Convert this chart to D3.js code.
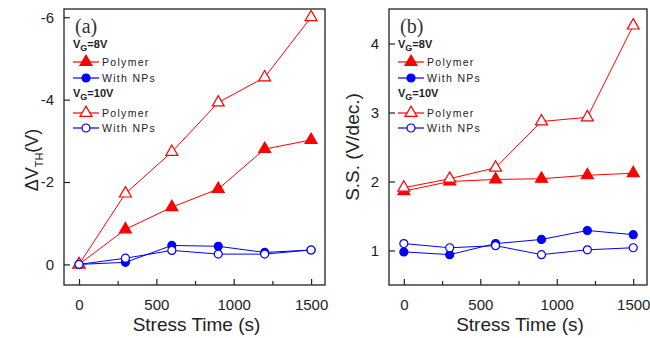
<!DOCTYPE html>
<html>
<head>
<meta charset="utf-8">
<script src="https://cdn.jsdelivr.net/npm/d3@7"></script>
<style>
  body { margin: 0; background: #fff; }
  svg { display: block; }
</style>
</head>
<body>
<svg width="650" height="338"></svg>
<script>
// stress times (s)
var times = [0, 300, 600, 900, 1200, 1500];

// panel (a): threshold voltage shift (V)
var dvthPoly8 = [0, -0.85, -1.39, -1.83, -2.8, -3.02];
var dvthNps8 = [0, -0.05, -0.46, -0.44, -0.29, -0.35];
var dvthPoly10 = [0, -1.72, -2.73, -3.93, -4.54, -6.0];
var dvthNps10 = [0, -0.15, -0.34, -0.25, -0.25, -0.35];

// panel (b): subthreshold swing (V/dec.)
var ssPoly8 = [1.86, 2.0, 2.03, 2.04, 2.09, 2.12];
var ssNps8 = [0.98, 0.94, 1.1, 1.16, 1.29, 1.23];
var ssPoly10 = [1.91, 2.04, 2.2, 2.87, 2.93, 4.26];
var ssNps10 = [1.1, 1.04, 1.07, 0.94, 1.01, 1.04];

var xTicks = [0, 500, 1000, 1500];
var xMinor = [250, 750, 1250];
var dvthTicks = [0, -2, -4, -6];
var ssTicks = [1, 2, 3, 4];

var RED = "#ff0000", BLUE = "#0000ff";
var SANS = "Arial, 'Liberation Sans', sans-serif";

var svg = d3.select("svg");

// one entry per line drawn on each panel
function seriesFor(p8, n8, p10, n10) {
  return [
    {name: "Polymer", vals: p8, color: RED, shape: "tri", fill: true},
    {name: "With NPs", vals: n8, color: BLUE, shape: "circ", fill: true},
    {name: "Polymer", vals: p10, color: RED, shape: "tri", fill: false},
    {name: "With NPs", vals: n10, color: BLUE, shape: "circ", fill: false}
  ];
}

function marker(g, shape, color, fill) {
  if (shape == "tri") {
    g.append("path")
      .attr("d", d3.symbol().type(d3.symbolTriangle).size(62))
      .attr("fill", fill ? color : "#fff")
      .attr("stroke", color)
      .attr("stroke-width", 1.2);
  } else {
    g.append("circle")
      .attr("r", 4)
      .attr("fill", fill ? color : "#fff")
      .attr("stroke", color)
      .attr("stroke-width", 1.2);
  }
}

function drawPanel(opt) {
  var g = svg.append("g");
  var x = d3.scaleLinear().domain([-97, 1590]).range([opt.left, opt.right]);
  var y = d3.scaleLinear().domain(opt.ydom).range([285, 9]);

  // frame
  g.append("rect")
    .attr("x", opt.left).attr("y", 9)
    .attr("width", opt.right - opt.left).attr("height", 276)
    .attr("fill", "none").attr("stroke", "#222").attr("stroke-width", 1.3);

  // axes with inward ticks
  g.append("g").attr("transform", "translate(0,285)")
    .call(d3.axisBottom(x).tickValues(xTicks).tickSize(-6).tickPadding(14)
      .tickFormat(d3.format("d")));
  g.append("g").attr("transform", "translate(0,285)")
    .call(d3.axisBottom(x).tickValues(xMinor).tickSize(-4).tickFormat(""));
  g.append("g").attr("transform", "translate(" + opt.left + ",0)")
    .call(d3.axisLeft(y).tickValues(opt.yticks).tickSize(-6).tickPadding(10)
      .tickFormat(function(d) { return String(d); }));
  g.selectAll(".domain").remove();
  g.selectAll(".tick line").attr("stroke", "#222").attr("stroke-width", 1.2);
  g.selectAll(".tick text")
    .attr("font-family", SANS)
    .attr("font-size", 15).attr("fill", "#222");

  var line = d3.line()
    .x(function(d, i) { return x(times[i]); })
    .y(function(d) { return y(d); });

  opt.series.forEach(function(s) {
    g.append("path").datum(s.vals)
      .attr("d", line).attr("fill", "none")
      .attr("stroke", s.color).attr("stroke-width", 1);
  });
  opt.series.forEach(function(s) {
    s.vals.forEach(function(v, i) {
      var m = g.append("g").attr("transform", "translate(" + x(times[i]) + "," + y(v) + ")");
      marker(m, s.shape, s.color, s.fill);
    });
  });

  // panel letter
  g.append("text")
    .attr("x", opt.left + 11).attr("y", 33)
    .attr("font-family", "'Liberation Serif', 'Times New Roman', serif")
    .attr("font-size", 20).attr("fill", "#333")
    .text(opt.letter);

  // legend
  var lx = opt.left + 9;
  var rows = [
    {head: "8V", y: 48},
    {s: opt.series[0], y: 66},
    {s: opt.series[1], y: 82},
    {head: "10V", y: 97},
    {s: opt.series[2], y: 117},
    {s: opt.series[3], y: 132}
  ];
  rows.forEach(function(r) {
    if (r.head) {
      var t = g.append("text").attr("x", lx).attr("y", r.y)
        .attr("font-family", SANS)
        .attr("font-weight", "bold").attr("font-size", 11).attr("fill", "#222");
      t.append("tspan").text("V");
      t.append("tspan").attr("font-size", 9).attr("dy", 3).text("G");
      t.append("tspan").attr("dy", -3).text("=" + r.head);
    } else {
      g.append("line")
        .attr("x1", lx).attr("x2", lx + 26).attr("y1", r.y - 4).attr("y2", r.y - 4)
        .attr("stroke", r.s.color).attr("stroke-width", 1.2);
      var m = g.append("g").attr("transform", "translate(" + (lx + 13) + "," + (r.y - 4) + ")");
      marker(m, r.s.shape, r.s.color, r.s.fill);
      g.append("text").attr("x", lx + 29).attr("y", r.y)
        .attr("font-family", SANS)
        .attr("font-size", 10.5).attr("letter-spacing", 1.3).attr("fill", "#222")
        .text(r.s.name);
    }
  });

  // x title
  g.append("text")
    .attr("x", (opt.left + opt.right) / 2 + 2).attr("y", 331)
    .attr("text-anchor", "middle")
    .attr("font-family", SANS)
    .attr("font-size", 19).attr("fill", "#222")
    .text("Stress Time (s)");

  // y title
  var yt = g.append("text")
    .attr("transform", "translate(" + opt.ytx + "," + opt.yty + ") rotate(-90)")
    .attr("text-anchor", "middle")
    .attr("font-family", SANS)
    .attr("font-size", opt.ytsize).attr("fill", "#222");
  opt.ytitle(yt);
}

drawPanel({
  left: 64, right: 325, ydom: [0.5, -6.2], yticks: dvthTicks, letter: "(a)",
  ytx: 38, yty: 160, ytsize: 18,
  series: seriesFor(dvthPoly8, dvthNps8, dvthPoly10, dvthNps10),
  ytitle: function(t) {
    t.append("tspan").text("\u0394V");
    t.append("tspan").attr("font-size", 11).attr("dy", 5).text("TH");
    t.append("tspan").attr("dy", -5).text("(V)");
  }
});

drawPanel({
  left: 389, right: 647, ydom: [0.5, 4.5], yticks: ssTicks, letter: "(b)",
  ytx: 359, yty: 147, ytsize: 19,
  series: seriesFor(ssPoly8, ssNps8, ssPoly10, ssNps10),
  ytitle: function(t) { t.text("S.S. (V/dec.)"); }
});
</script>
</body>
</html>
